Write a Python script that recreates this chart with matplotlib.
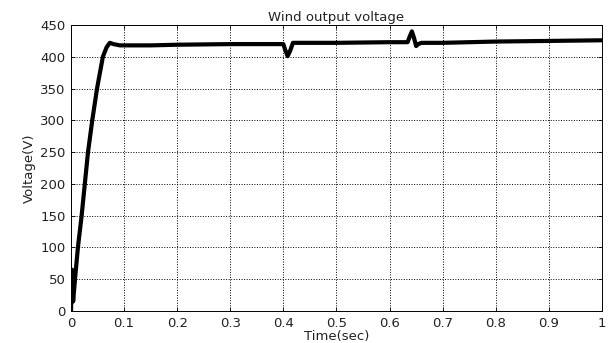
import numpy as np
import matplotlib
matplotlib.use("Agg")
from matplotlib import pyplot as plt

# values
t = [0, 0.002, 0.004, 0.0075, 0.013, 0.02, 0.026, 0.032, 0.04, 0.049, 0.06,
     0.067, 0.073, 0.08, 0.092, 0.15, 0.2, 0.3, 0.40, 0.403, 0.408, 0.413,
     0.418, 0.43, 0.5, 0.6, 0.634, 0.638, 0.642, 0.646, 0.650, 0.654, 0.66,
     0.7, 0.8, 0.9, 1.0]
v = [0, 65, 15, 50, 100, 150, 200, 250, 300, 350, 400,
     415, 422, 420, 418, 418, 419, 420, 420, 412, 401, 410,
     422, 422, 422, 423, 423, 432, 440, 430, 417, 420, 422,
     422, 424, 425, 426]

xticks = [0, 0.1, 0.2, 0.3, 0.4, 0.5, 0.6, 0.7, 0.8, 0.9, 1]
xticklabels = ['0', '0.1', '0.2', '0.3', '0.4', '0.5', '0.6', '0.7', '0.8', '0.9', '1']
yticks = [0, 50, 100, 150, 200, 250, 300, 350, 400, 450]

plt.rcParams['font.family'] = ['DejaVu Sans']
fs = 9.5

fig = plt.figure(figsize=(6.08, 3.43), dpi=100)
ax = fig.add_axes([0.1168, 0.0933, 0.8732, 0.8337])

ax.plot(t, v, color='black', lw=3, solid_joinstyle='round')

ax.set_xlim(0, 1)
ax.set_ylim(0, 450)
ax.set_xticks(xticks)
ax.set_xticklabels(xticklabels)
ax.set_yticks(yticks)
ax.grid(True, color='black', linestyle=':', lw=0.7)
ax.tick_params(direction='in', length=3, width=0.6, top=True, right=True,
               labelsize=fs, pad=4, colors='black', labelcolor='#222222')
for s in ax.spines.values():
    s.set_linewidth(0.7)

ax.set_title('Wind output voltage', fontsize=fs, pad=3, color='#222222')
ax.set_xlabel('Time(sec)', fontsize=fs, labelpad=0, color='#222222')
ax.set_ylabel('Voltage(V)', fontsize=fs, labelpad=3, color='#222222')

plt.savefig('out.png', dpi=100)
